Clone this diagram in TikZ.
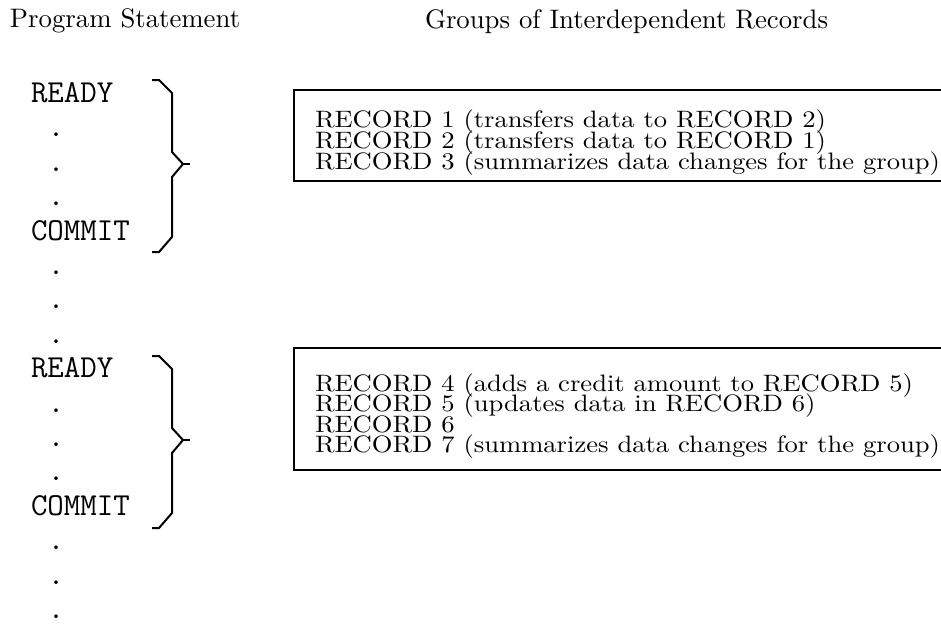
\documentclass[tikz,border=0pt]{standalone}
\usepackage{fontspec}
\newfontfamily\recfont{lmroman10-regular.otf}[FakeStretch=1.12]
\usetikzlibrary{positioning}

\begin{document}
\begin{tikzpicture}[x=0.4pt,y=-0.4pt,
  every node/.style={inner sep=0pt,outer sep=0pt},
  head/.style={font=\fontsize{10.7}{12}\selectfont,anchor=base west},
  stmt/.style={font=\fontsize{12.8}{14}\selectfont\ttfamily,anchor=base west},
  rec/.style={font=\recfont\fontsize{9.5}{10}\selectfont,anchor=base west},
  brace/.style={line width=0.8pt,line join=miter},
  grp/.style={line width=0.8pt}]
  \useasboundingbox (0,0) rectangle (941,627);
  \node[head] (hstmt) at (10,27) {Program Statement};
  \node[head] (hgrp) at (425,28) {Groups of Interdependent Records};
  % statement column, one line every 34.4 units
  \foreach \i/\s in {0/READY,4/COMMIT,8/READY,12/COMMIT}
    \node[stmt] (st\i) at (31,{102.5+34.4*\i}) {\s};
  \foreach \i in {1,2,3,5,6,7,9,10,11,13,14,15}
    \node[stmt,anchor=base] (st\i) at (56,{102.5+34.4*\i}) {.};
  % braces READY ... COMMIT
  \foreach \o in {0,276} {
    \draw[brace,shift={(0,\o)}] (152,80) -- (159,80) -- (172,93) -- (172,152)
      -- (183,164) -- (172,177) -- (172,237) -- (159,252) -- (152,252);
    \draw[brace,shift={(0,\o)}] (183,164) -- (190,164);
  }
  % record groups, boxes open at the right
  \foreach \t [count=\i] in {RECORD 1 (transfers data to RECORD 2),
      RECORD 2 (transfers data to RECORD 1),
      RECORD 3 (summarizes data changes for the group)}
    \node[rec] (rec\i) at (315,{106+21*\i}) {\t};
  \foreach \t [count=\i from 4] in {RECORD 4 (adds a credit amount to RECORD 5),
      RECORD 5 (updates data in RECORD 6),
      RECORD 6,
      RECORD 7 (summarizes data changes for the group)}
    \node[rec] (rec\i) at (315,{309+20.5*\i}) {\t};
  \draw[grp] (945,90) -| (294,181) -- (945,181);
  \draw[grp] (945,348) -| (294,470) -- (945,470);
\end{tikzpicture}
\end{document}
